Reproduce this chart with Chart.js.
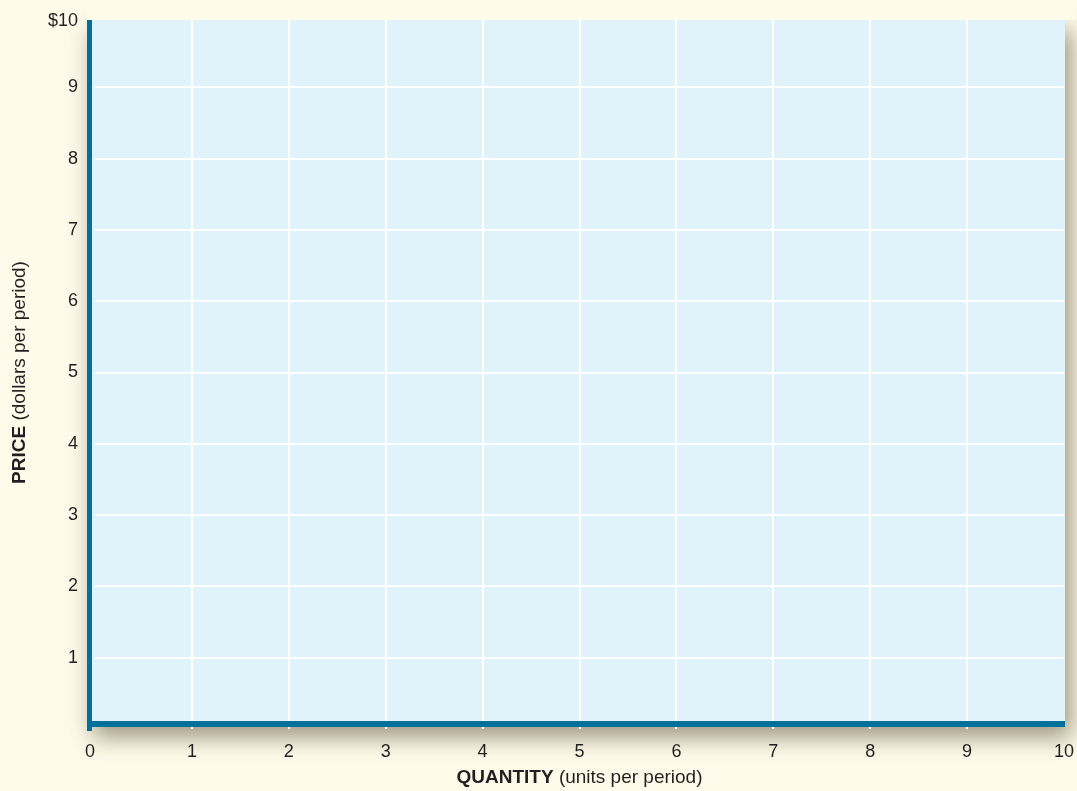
<!DOCTYPE html>
<html>
<head>
<meta charset="utf-8">
<script src="https://cdn.jsdelivr.net/npm/chart.js@4"></script>
<style>
  html, body { margin: 0; padding: 0; background: #fffbea; }
  #wrap { width: 1077px; height: 791px; }
</style>
</head>
<body>
<div id="wrap"><canvas id="myChart"></canvas></div>
<script>
// axis data
const xTicks = [0, 1, 2, 3, 4, 5, 6, 7, 8, 9, 10];
const yTicks = [0, 1, 2, 3, 4, 5, 6, 7, 8, 9, 10];
const xTitleBold = "QUANTITY";
const xTitleRest = " (units per period)";
const yTitleBold = "PRICE";
const yTitleRest = " (dollars per period)";

const pageBg = "#fffbea";
const axisBlue = "#00719b";
const panelBlue = "#e0f3fa";
const textColor = "#231f20";
const fontFamily = "'Liberation Sans', Arial, sans-serif";
const titleSize = 19;

// panel background + shadow, then axes and titles on top
const panelPlugin = {
  id: "panel",
  beforeDraw(chart) {
    const { ctx, chartArea: a } = chart;
    ctx.save();
    ctx.fillStyle = panelBlue;
    ctx.shadowColor = "rgba(60,50,20,0.5)";
    ctx.shadowBlur = 22;
    ctx.shadowOffsetX = 6;
    ctx.shadowOffsetY = 10;
    ctx.fillRect(a.left - 8, a.top + 4, a.right - a.left + 9, a.bottom - a.top - 6);
    ctx.restore();
  },
  beforeDatasetsDraw(chart) {
    // gridlines stop at the top of the panel
    const { ctx, chartArea: a } = chart;
    ctx.save();
    ctx.fillStyle = pageBg;
    ctx.fillRect(a.left - 8, 0, a.right - a.left + 20, a.top + 4);
    ctx.restore();
  },
  afterDraw(chart) {
    const { ctx, chartArea: a } = chart;
    ctx.save();
    ctx.fillStyle = axisBlue;
    // left axis
    ctx.fillRect(a.left - 8, a.top + 4, 5, a.bottom - a.top - 2);
    // bottom axis
    ctx.fillRect(a.left - 8, a.bottom - 8, a.right - a.left + 9, 6);

    // x title
    const bold = "bold " + titleSize + "px " + fontFamily;
    const norm = titleSize + "px " + fontFamily;
    ctx.fillStyle = textColor;
    ctx.textBaseline = "middle";
    ctx.font = bold;
    const wb = ctx.measureText(xTitleBold).width;
    ctx.font = norm;
    const wr = ctx.measureText(xTitleRest).width;
    let x0 = (a.left + a.right) / 2 - (wb + wr) / 2;
    ctx.font = bold;
    ctx.fillText(xTitleBold, x0, 778);
    ctx.font = norm;
    ctx.fillText(xTitleRest, x0 + wb, 778);

    // y title
    ctx.translate(20, (a.top + a.bottom) / 2);
    ctx.rotate(-Math.PI / 2);
    ctx.font = bold;
    const yb = ctx.measureText(yTitleBold).width;
    ctx.font = norm;
    const yr = ctx.measureText(yTitleRest).width;
    let y0 = -(yb + yr) / 2;
    ctx.font = bold;
    ctx.fillText(yTitleBold, y0, 0);
    ctx.font = norm;
    ctx.fillText(yTitleRest, y0 + yb, 0);
    ctx.restore();
  }
};

const ctx = document.getElementById("myChart");
new Chart(ctx, {
  type: "scatter",
  plugins: [panelPlugin],
  data: { datasets: [{ data: [] }] },
  options: {
    animation: false,
    responsive: true,
    maintainAspectRatio: false,
    layout: { padding: { top: 16, right: 13, left: 0, bottom: 0 } },
    plugins: { legend: { display: false }, tooltip: { enabled: false } },
    scales: {
      x: {
        type: "linear",
        min: 0, max: 10,
        afterFit: (s) => { s.height = 62; s.paddingLeft = 0; s.paddingRight = 0; },
        afterBuildTicks: (s) => { s.ticks = xTicks.map(v => ({ value: v })); },
        border: { display: false },
        grid: {
          drawTicks: false,
          lineWidth: 2,
          color: (c) => (c.tick && (c.tick.value === 0 || c.tick.value === 10)) ? "rgba(0,0,0,0)" : "#ffffff"
        },
        ticks: {
          padding: 12,
          color: textColor,
          font: { family: fontFamily, size: 18 },
          maxRotation: 0,
          // the 0 sits a little left of the origin
          callback: (v) => v === 0 ? "0  " : String(v)
        }
      },
      y: {
        type: "linear",
        min: 0, max: 10,
        afterFit: (s) => { s.width = 95; s.paddingTop = 0; s.paddingBottom = 0; },
        afterBuildTicks: (s) => { s.ticks = yTicks.filter(v => v > 0).map(v => ({ value: v })); },
        border: { display: false },
        grid: {
          drawTicks: false,
          lineWidth: 2,
          color: (c) => (c.tick && (c.tick.value === 0 || c.tick.value === 10)) ? "rgba(0,0,0,0)" : "#ffffff"
        },
        ticks: {
          padding: 17,
          color: textColor,
          font: (c) => (c.tick && c.tick.value === 10)
            ? { family: fontFamily, size: 18, lineHeight: 0.6 }
            : { family: fontFamily, size: 18 },
          // $10 sits at the top edge of the panel
          callback: (v) => v === 10 ? ["", "$10"] : String(v)
        }
      }
    }
  }
});
</script>
</body>
</html>
